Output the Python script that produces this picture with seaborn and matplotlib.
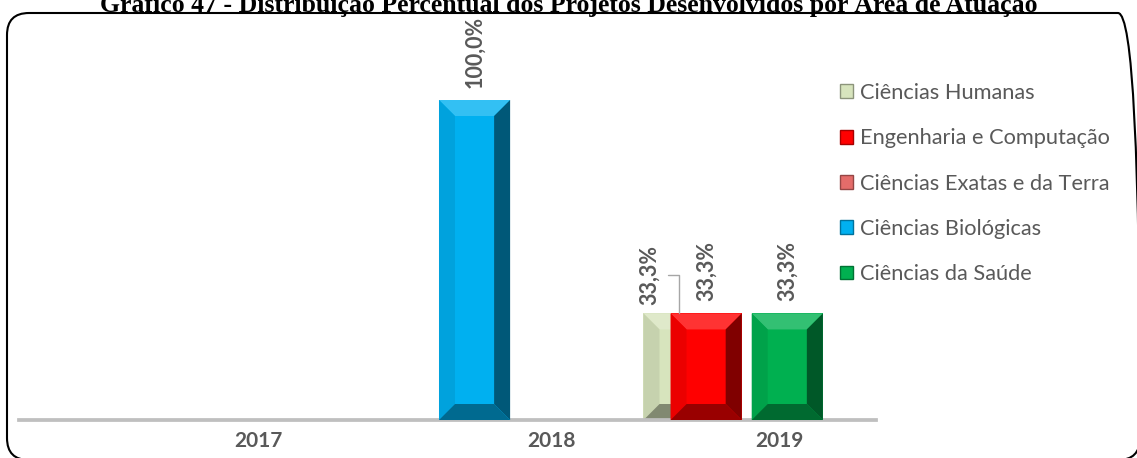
import pandas as pd
import seaborn as sns
import matplotlib.pyplot as plt
from matplotlib.patches import Patch, Polygon, FancyBboxPatch
from matplotlib.transforms import IdentityTransform, ScaledTranslation
from matplotlib.colors import to_rgb


# Dados do gráfico (percentual por área e ano)

anos = ['2017', '2018', '2019']
areas = [
    'Ciências Humanas',
    'Engenharia e Computação',
    'Ciências Exatas e da Terra',
    'Ciências Biológicas',
    'Ciências da Saúde',
]
humanas = [0, 0, 33.3]
engenharia = [0, 0, 33.3]
exatas = [0, 0, 0]
biologicas = [0, 100.0, 0]
saude = [0, 0, 33.3]

cores = ['#D7E4BD', '#FF0000', '#E46C6A', '#00B0F0', '#00B050']

titulo = ('Gráfico 47 - Distribuição Percentual dos Projetos '
          'Desenvolvidos por Área de Atuação')

valores = [humanas, engenharia, exatas, biologicas, saude]
df = pd.DataFrame({
    'ano': anos * len(areas),
    'area': [a for a in areas for _ in anos],
    'pct': [v for serie in valores for v in serie],
})


def tom(cor, f):
    # f > 0 clareia, f < 0 escurece
    r, g, b = to_rgb(cor)
    if f >= 0:
        return (r + (1 - r) * f, g + (1 - g) * f, b + (1 - b) * f)
    return (r * (1 + f), g * (1 + f), b * (1 + f))


sns.set_theme(style='white')
plt.rcParams['font.family'] = ['Lato', 'DejaVu Sans']

W, H = 1137, 458
fig = plt.figure(figsize=(W / 100, H / 100), dpi=100)
ax = fig.add_axes([19 / W, 38 / H, 857 / W, 384 / H])

# passo entre séries ~0.095, barras largas e sobrepostas (estilo Excel)
passo = 0.0947
largura = 0.249
sns.barplot(
    data=df, x='ano', y='pct', hue='area', hue_order=areas,
    palette=cores, saturation=1, width=passo * len(areas),
    errorbar=None, linewidth=0, legend=False, ax=ax
)
ax.set_xlim(-0.5, 2.5)
ax.set_ylim(0, 120)

# bisel nas barras
bisel_px = 16
dx = bisel_px * 3.0 / 857
dy = bisel_px * 120 / 384

cinza = '#595959'
offsets_rotulo = {'Ciências Humanas': (-30, 8)}

for i, p in enumerate(ax.patches):
    k = i // len(anos)
    h = p.get_height()
    cx = p.get_x() + p.get_width() / 2
    p.set_x(cx - largura / 2)
    p.set_width(largura)
    p.set_zorder(2 + k)
    if h <= 0:
        continue
    cor = cores[k]
    x0, x1 = cx - largura / 2, cx + largura / 2
    faces = [
        ([(x0, h), (x1, h), (x1 - dx, h - dy), (x0 + dx, h - dy)], tom(cor, 0.2)),
        ([(x0, 0), (x0, h), (x0 + dx, h - dy), (x0 + dx, dy)], tom(cor, -0.08)),
        ([(x1, 0), (x1, h), (x1 - dx, h - dy), (x1 - dx, dy)], tom(cor, -0.5)),
        ([(x0, 0), (x1, 0), (x1 - dx, dy), (x0 + dx, dy)], tom(cor, -0.4)),
    ]
    for pts, c in faces:
        ax.add_patch(Polygon(pts, closed=True, facecolor=c, edgecolor='none',
                             zorder=2 + k + 0.5))

    rotulo = f'{h:.1f}%'.replace('.', ',')
    area = areas[k]
    if area in offsets_rotulo:
        ax.annotate(
            rotulo, xy=(cx, h), xytext=offsets_rotulo[area],
            textcoords='offset pixels', rotation=90, ha='center', va='bottom',
            fontsize=15.5, fontweight='bold', color=cinza, zorder=20,
            arrowprops=dict(arrowstyle='-', color='#A6A6A6', lw=1,
                            shrinkA=4, shrinkB=0,
                            connectionstyle='angle,angleA=0,angleB=90,rad=0'),
        )
    else:
        ax.annotate(
            rotulo, xy=(cx, h), xytext=(0, 12), textcoords='offset pixels',
            rotation=90, ha='center', va='bottom',
            fontsize=15.5, fontweight='bold', color=cinza, zorder=20,
        )

# eixos
ax.set_xlabel('')
ax.set_ylabel('')
ax.set_yticks([])
for lado in ['left', 'top', 'right']:
    ax.spines[lado].set_visible(False)
ax.spines['bottom'].set_color('#BFBFBF')
ax.spines['bottom'].set_linewidth(2.7)
ax.tick_params(axis='x', length=0, pad=8, labelsize=15, labelcolor=cinza)

# no original os rótulos dos anos ficam deslocados para a direita
desloc_px = [97, 104, 46]
for t, d in zip(ax.get_xticklabels(), desloc_px):
    t.set_fontweight('bold')
    t.set_transform(t.get_transform() + ScaledTranslation(d / 100, 0, fig.dpi_scale_trans))

# legenda
handles = [Patch(facecolor=c, edgecolor=tom(c, -0.35), linewidth=1) for c in cores]
fig.legend(
    handles, areas, loc='upper left', bbox_to_anchor=(840 / W, 1 - 83 / H),
    frameon=False, fontsize=15.7, labelcolor=cinza,
    handlelength=0.6, handleheight=0.6, handletextpad=0.32, labelspacing=1.16,
    borderaxespad=0, borderpad=0,
)

# moldura arredondada e título
moldura = FancyBboxPatch(
    (7, -2), 1133, 447, boxstyle='round,pad=0,rounding_size=22',
    transform=IdentityTransform(), fill=False, edgecolor='black', linewidth=1.5
)
fig.add_artist(moldura)

fig.text(0.5, 1 - 12 / H, titulo, ha='center', va='baseline',
         family=['Liberation Serif'], fontweight='bold', fontsize=18.5,
         color='black')

fig.savefig('out.png', dpi=100)
